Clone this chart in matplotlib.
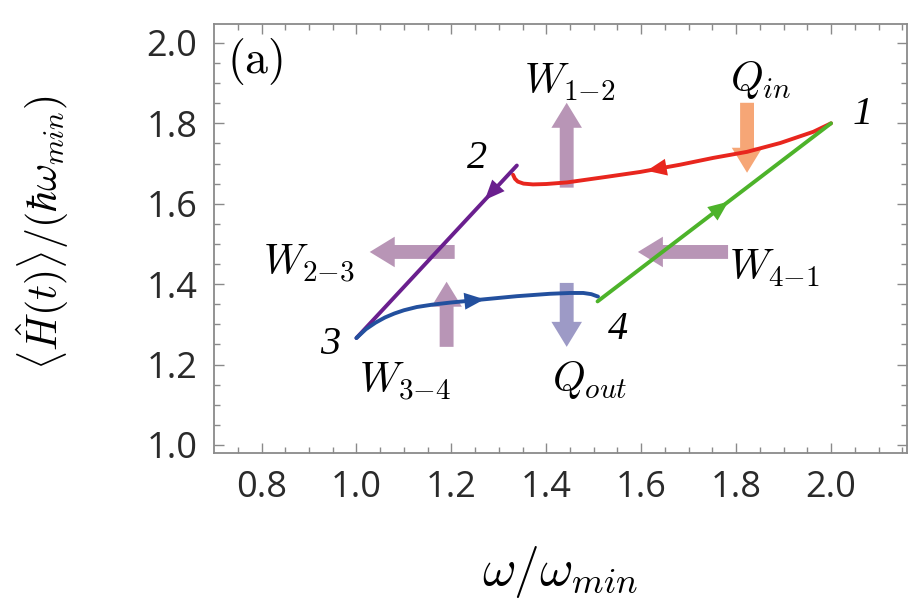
import numpy as np
import matplotlib
matplotlib.use('Agg')
import matplotlib.pyplot as plt

plt.rcParams['mathtext.fontset'] = 'cm'

# stroke 1 -> 2 (red)
red_x = [2.0, 1.963, 1.893, 1.823, 1.752, 1.682, 1.598, 1.528, 1.444, 1.40, 1.372, 1.352, 1.340, 1.334, 1.330]
red_y = [1.80, 1.779, 1.751, 1.729, 1.714, 1.697, 1.679, 1.667, 1.653, 1.649, 1.648, 1.650, 1.655, 1.662, 1.672]
# stroke 2 -> 3 (purple)
pur_x = [1.338, 1.0]
pur_y = [1.695, 1.266]
# stroke 3 -> 4 (blue)
blu_x = [1.0, 1.02, 1.04, 1.06, 1.08, 1.10, 1.127, 1.16, 1.197, 1.267, 1.338, 1.408, 1.45, 1.478, 1.495, 1.509]
blu_y = [1.266, 1.288, 1.304, 1.317, 1.327, 1.335, 1.343, 1.349, 1.354, 1.362, 1.370, 1.376, 1.378, 1.378, 1.375, 1.369]
# stroke 4 -> 1 (green)
grn_x = [1.508, 2.0]
grn_y = [1.357, 1.80]

# big arrows: (tail x, tail y, tip x, tip y, colour)
big_arrows = [
    (1.443, 1.64, 1.443, 1.851, '#b895b6'),   # W12
    (1.823, 1.851, 1.823, 1.677, '#f6a676'),  # Qin
    (1.207, 1.48, 1.028, 1.48, '#b895b6'),    # W23
    (1.783, 1.48, 1.593, 1.48, '#b895b6'),    # W41
    (1.19, 1.244, 1.19, 1.406, '#b895b6'),    # W34
    (1.443, 1.403, 1.443, 1.244, '#9d9ac6'),  # Qout
]

labels = [
    ('$W_{1{-}2}$', 1.45, 1.903),
    ('$Q_{in}$', 1.851, 1.908),
    ('$W_{2{-}3}$', 0.901, 1.45),
    ('$W_{4{-}1}$', 1.88, 1.44),
    ('$W_{3{-}4}$', 1.102, 1.157),
    ('$Q_{out}$', 1.492, 1.162),
]
points = [('1', 2.066, 1.821), ('2', 1.254, 1.712), ('3', 0.944, 1.249), ('4', 1.551, 1.286)]

fig = plt.figure(figsize=(9.21, 6.04), dpi=100)
ax = fig.add_axes([0.2324, 0.25, 0.7524, 0.7103])

for tx, ty, hx, hy, c in big_arrows:
    ax.annotate('', xy=(hx, hy), xytext=(tx, ty),
                arrowprops=dict(arrowstyle='simple,head_length=1.8,head_width=2.2,tail_width=1.0',
                                mutation_scale=10, color=c, lw=0, shrinkA=0, shrinkB=0),
                zorder=1)

curves = [(red_x, red_y, '#e8261e', 0.58),
          (pur_x, pur_y, '#6a1f8e', 0.2),
          (blu_x, blu_y, '#23509e', 0.55),
          (grn_x, grn_y, '#4db32a', 0.56)]
for xs, ys, c, frac in curves:
    ax.plot(xs, ys, color=c, lw=2.8, solid_capstyle='round', solid_joinstyle='round', zorder=3)
    # small arrowhead along the curve
    xs = np.asarray(xs); ys = np.asarray(ys)
    d = np.concatenate([[0], np.cumsum(np.hypot(np.diff(xs), np.diff(ys)))])
    s = frac * d[-1]
    p1 = (np.interp(s, d, xs), np.interp(s, d, ys))
    p0 = (np.interp(s - 0.02, d, xs), np.interp(s - 0.02, d, ys))
    ax.annotate('', xy=p1, xytext=p0,
                arrowprops=dict(arrowstyle='-|>,head_length=0.9,head_width=0.38',
                                mutation_scale=16, color=c, lw=0, shrinkA=0, shrinkB=0),
                zorder=4)

for t, x, y in labels:
    ax.text(x, y, t, fontsize=30, ha='center', va='center', zorder=5)
for t, x, y in points:
    ax.text(x, y, t, fontsize=29, ha='center', va='center', family='Liberation Serif',
            style='italic', zorder=5)
ax.text(0.787, 1.953, r'$\mathrm{(a)}$', fontsize=33, ha='center', va='center')

ax.set_xlim(0.7, 2.16)
ax.set_ylim(0.98, 2.047)
ax.set_xticks([0.8, 1.0, 1.2, 1.4, 1.6, 1.8, 2.0])
ax.set_yticks([1.0, 1.2, 1.4, 1.6, 1.8, 2.0])
ax.set_xticks(np.arange(0.75, 2.16, 0.05), minor=True)
ax.set_yticks(np.arange(1.0, 2.04, 0.05), minor=True)
ax.set_xticklabels(['0.8', '1.0', '1.2', '1.4', '1.6', '1.8', '2.0'])
ax.set_yticklabels(['1.0', '1.2', '1.4', '1.6', '1.8', '2.0'])
ax.tick_params(which='both', direction='in', top=True, right=True, color='#8a8a8a', width=1.0)
ax.tick_params(which='major', length=7, labelsize=26, pad=12, labelcolor='#2a2a2a')
ax.tick_params(which='minor', length=4)
for lab in ax.get_xticklabels() + ax.get_yticklabels():
    lab.set_family('Open Sans')
for sp in ax.spines.values():
    sp.set_color('#8a8a8a')
    sp.set_linewidth(1.3)

ax.set_ylabel(r'$\langle\hat{H}(t)\rangle/(\hbar\omega_{min})$', fontsize=30)
ax.yaxis.set_label_coords(-0.248, 0.515)
ax.yaxis.label.set_va('center')
ax.set_xlabel(r'$\omega/\omega_{min}$', fontsize=37)
ax.xaxis.set_label_coords(0.5, -0.277)
ax.xaxis.label.set_va('center')

plt.savefig('out.png', dpi=100)
